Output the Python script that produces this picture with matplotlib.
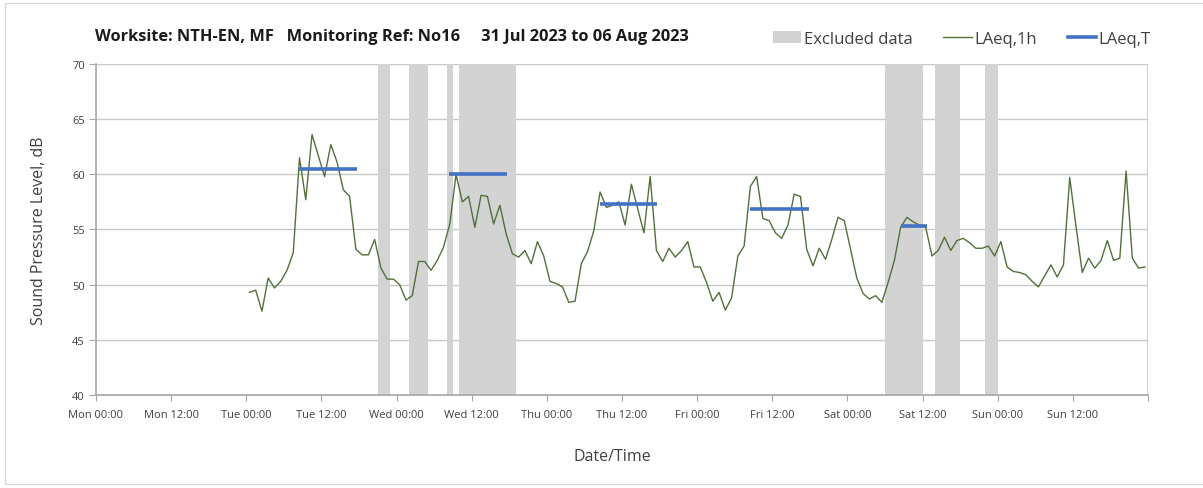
import numpy as np
import pandas as pd
import matplotlib
matplotlib.use("Agg")
from matplotlib import pyplot as plt
import matplotlib.dates as mdates
from matplotlib.patches import Patch, Rectangle
from matplotlib.lines import Line2D

plt.rcParams['font.family'] = ['Open Sans', 'DejaVu Sans']

# Hourly LAeq,1h readings, first one at Tue 01 Aug 00:30
first_reading = "2023-08-01 00:30"
laeq_1h = [
    49.3, 49.5, 47.6, 50.6, 49.7, 50.3, 51.3, 52.9, 61.5, 57.7,
    63.6, 61.7, 59.8, 62.7, 61.1, 58.6, 58.0, 53.2, 52.7, 52.7,
    54.1, 51.5, 50.5, 50.5, 50.0, 48.6, 49.0, 52.1, 52.1, 51.3,
    52.2, 53.4, 55.5, 60.0, 57.5, 58.0, 55.2, 58.1, 58.0, 55.5,
    57.2, 54.6, 52.8, 52.5, 53.1, 51.9, 53.9, 52.6, 50.3, 50.1,
    49.8, 48.4, 48.5, 51.9, 53.0, 54.9, 58.4, 57.0, 57.2, 57.5,
    55.4, 59.1, 56.9, 54.7, 59.8, 53.1, 52.1, 53.3, 52.5, 53.1,
    53.9, 51.6, 51.6, 50.2, 48.5, 49.3, 47.7, 48.8, 52.6, 53.5,
    58.9, 59.8, 56.0, 55.8, 54.7, 54.2, 55.4, 58.2, 58.0, 53.2,
    51.7, 53.3, 52.3, 54.1, 56.1, 55.8, 53.2, 50.6, 49.2, 48.7,
    49.0, 48.4, 50.2, 52.2, 55.2, 56.1, 55.7, 55.4, 55.2, 52.6,
    53.1, 54.3, 53.1, 54.0, 54.2, 53.8, 53.3, 53.3, 53.5, 52.6,
    53.9, 51.6, 51.2, 51.1, 50.9, 50.3, 49.8, 50.8, 51.8, 50.7,
    51.8, 59.7, 55.3, 51.1, 52.4, 51.5, 52.2, 54.0, 52.2, 52.4,
    60.3, 52.4, 51.5, 51.6,
]

# Periods left out of the assessment
excluded_start = ["2023-08-01 21:00", "2023-08-02 02:00", "2023-08-02 08:00",
                  "2023-08-02 10:00", "2023-08-05 06:00", "2023-08-05 14:00",
                  "2023-08-05 22:00"]
excluded_end = ["2023-08-01 23:00", "2023-08-02 05:00", "2023-08-02 09:00",
                "2023-08-02 19:00", "2023-08-05 12:00", "2023-08-05 18:00",
                "2023-08-06 00:00"]

# Daytime LAeq,T per day
laeq_t_start = ["2023-08-01 08:25", "2023-08-02 08:25", "2023-08-03 08:25",
                "2023-08-04 08:30", "2023-08-05 08:35"]
laeq_t_end = ["2023-08-01 17:40", "2023-08-02 17:35", "2023-08-03 17:40",
              "2023-08-04 17:50", "2023-08-05 12:40"]
laeq_t = [60.5, 60.0, 57.3, 56.9, 55.3]

title = "Worksite: NTH-EN, MF   Monitoring Ref: No16     31 Jul 2023 to 06 Aug 2023"

green = "#52703A"
blue = "#4472C4"
band = "#D3D3D3"
txt = "#404040"

times = pd.date_range(first_reading, periods=len(laeq_1h), freq="h")
week_start = pd.Timestamp("2023-07-31 00:00")
week_end = pd.Timestamp("2023-08-07 00:00")

fig = plt.figure(figsize=(12.03, 4.89), dpi=100)
ax = fig.add_axes([96 / 1203, 1 - 396 / 489, (1148 - 96) / 1203, (396 - 65) / 489])

for s, e in zip(excluded_start, excluded_end):
    ax.axvspan(pd.Timestamp(s), pd.Timestamp(e), color=band, lw=0, zorder=1)

ax.plot(times, laeq_1h, color=green, lw=1.0, zorder=3)

for s, e, v in zip(laeq_t_start, laeq_t_end, laeq_t):
    ax.plot([pd.Timestamp(s), pd.Timestamp(e)], [v, v], color=blue, lw=2.6,
            solid_capstyle="butt", zorder=4)

ax.set_xlim(week_start, week_end)
ax.set_ylim(40, 70)
ax.set_yticks(np.arange(40, 71, 5))

ax.xaxis.set_major_locator(mdates.HourLocator(byhour=[0, 12]))
fmt = mdates.DateFormatter("%a %H:%M")
end_num = mdates.date2num(week_end)
# no label on the closing Monday tick
ax.xaxis.set_major_formatter(lambda v, pos: "" if abs(v - end_num) < 1e-6 else fmt(v, pos))
ax.xaxis.set_minor_locator(mdates.DayLocator())

ax.grid(axis="y", color="#C8C8C8", lw=1.0, zorder=0)
ax.grid(axis="x", which="minor", color="#D9D9D9", lw=1.0, zorder=0)
ax.grid(axis="x", which="major", visible=False)
ax.set_axisbelow(True)

ax.tick_params(axis="x", which="major", direction="out", length=4, color="#A6A6A6",
               labelsize=8, labelcolor=txt, pad=6)
ax.tick_params(axis="x", which="minor", length=0)
ax.tick_params(axis="y", direction="out", length=5, color="#A6A6A6",
               labelsize=8, labelcolor=txt, pad=3)

for side in ["top", "right"]:
    ax.spines[side].set_visible(False)
for side in ["left", "bottom"]:
    ax.spines[side].set_color("#A6A6A6")
    ax.spines[side].set_linewidth(1.2)
ax.axvline(week_end, color="#C8C8C8", lw=1.2, zorder=0)

ax.set_ylabel("Sound Pressure Level, dB", fontsize=11.5, color=txt, labelpad=18)
ax.set_xlabel("Date/Time", fontsize=11.5, color=txt, labelpad=18)
ax.xaxis.set_label_coords(0.491, -0.16)

fig.text(95 / 1203, 1 - 37 / 489, title, fontsize=11.8, fontweight="bold",
         color="#1A1A1A", va="center", ha="left")

handles = [Patch(facecolor=band, edgecolor="none"),
           Line2D([], [], color=green, lw=1.0),
           Line2D([], [], color=blue, lw=2.6)]
fig.legend(handles, ["Excluded data", "LAeq,1h", "LAeq,T"],
           loc="center left", bbox_to_anchor=(758 / 1203, 1 - 40 / 489),
           ncol=3, frameon=False, fontsize=12, handlelength=1.7,
           handletextpad=0.15, columnspacing=1.85, labelcolor=txt,
           handleheight=0.75)

# light frame round the chart area
fig.add_artist(Rectangle((5 / 1203, 4 / 489), 1.2, 1 - 8 / 489, transform=fig.transFigure,
                         fill=False, edgecolor="#D9D9D9", lw=1.0))

fig.savefig("out.png", dpi=100, facecolor="white")
